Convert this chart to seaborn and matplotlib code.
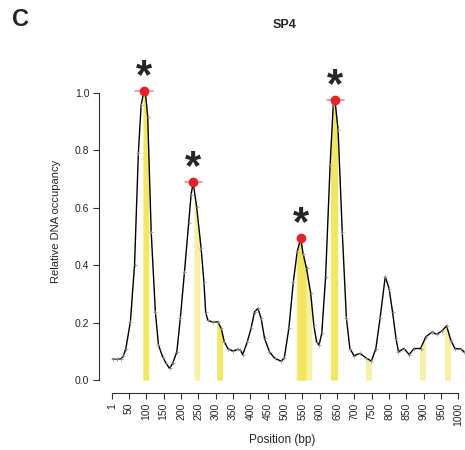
import numpy as np
import matplotlib
matplotlib.use("Agg")
import matplotlib.pyplot as plt
import seaborn as sns
import pandas as pd

# ---- data ----
position = [3, 15, 27, 34, 41, 54, 66, 77, 85, 93, 98, 104, 114, 126, 135, 147, 157,
            167, 176, 188, 198, 210, 222, 229, 235, 245, 258, 266, 271, 277, 292,
            306, 316, 325, 335, 349, 364, 371, 378, 391, 402, 412, 422, 431, 441,
            455, 470, 489, 498, 511, 524, 535, 545, 552, 562, 574, 583, 591, 598,
            606, 617, 630, 639, 644, 653, 665, 677, 687, 699, 716, 733, 749, 762,
            774, 789, 800, 810, 820, 827, 843, 858, 872, 891, 906, 925, 937, 952,
            966, 978, 990, 1007, 1016]
occupancy = [0.073, 0.072, 0.074, 0.085, 0.110, 0.203, 0.401, 0.790, 0.958, 1.007,
             0.993, 0.917, 0.517, 0.238, 0.122, 0.081, 0.058, 0.041, 0.058, 0.099,
             0.215, 0.377, 0.546, 0.645, 0.689, 0.604, 0.459, 0.343, 0.238, 0.209,
             0.201, 0.203, 0.180, 0.133, 0.110, 0.101, 0.107, 0.105, 0.089, 0.133,
             0.180, 0.238, 0.250, 0.215, 0.145, 0.099, 0.076, 0.066, 0.078, 0.180,
             0.343, 0.447, 0.494, 0.441, 0.389, 0.302, 0.192, 0.133, 0.122, 0.163,
             0.360, 0.749, 0.958, 0.976, 0.871, 0.517, 0.215, 0.110, 0.085, 0.093,
             0.078, 0.066, 0.110, 0.215, 0.360, 0.319, 0.238, 0.145, 0.099, 0.110,
             0.089, 0.110, 0.110, 0.151, 0.168, 0.159, 0.171, 0.189, 0.139, 0.110,
             0.108, 0.099]

# highlighted regions (start, end, shade)
region_start = [90, 237, 303, 531, 535, 631, 732, 888, 960]
region_end = [107, 254, 320, 577, 560, 652, 749, 905, 977]
region_shade = ["bright", "pale", "bright", "pale", "bright", "bright", "pale", "pale", "pale"]

# significant peaks
peak_pos = [94, 236, 547, 645]
peak_val = [1.008, 0.69, 0.494, 0.976]
peak_err = [26, 24, 8, 25]

xtick_labels = [1] + list(range(50, 1001, 50))
ytick_labels = [0.0, 0.2, 0.4, 0.6, 0.8, 1.0]

# ---- plotting ----
sns.set_style("white")
plt.rcParams['font.family'] = ['Liberation Sans', 'DejaVu Sans']

fig = plt.figure(figsize=(4.65, 4.5), dpi=100)
ax = fig.add_axes([99 / 465, (450 - 393) / 450, 366 / 465, 343 / 450])

df = pd.DataFrame({"Position (bp)": position, "Relative DNA occupancy": occupancy})

colors = {"bright": "#F2E65C", "pale": "#F6F0A4"}
for s, e, sh in zip(region_start, region_end, region_shade):
    xs = np.linspace(s, e, 40)
    ys = np.interp(xs, position, occupancy)
    ax.fill_between(xs, 0, ys, color=colors[sh], lw=0, alpha=0.95 if sh == "bright" else 1.0)

sns.lineplot(data=df, x="Position (bp)", y="Relative DNA occupancy", ax=ax,
             color="black", lw=1.0, marker="+", markersize=3,
             markeredgecolor="#888888", markeredgewidth=0.5,
             solid_joinstyle="round")

for p, v, e in zip(peak_pos, peak_val, peak_err):
    ax.plot([p - e, p + e], [v, v], color="#F08A8A", lw=1.2, zorder=4)
    ax.plot(p, v, "o", color="#E2232A", markersize=6, zorder=5)
    ax.annotate("*", (p, v), xytext=(0, 2), textcoords="offset points",
                ha="center", va="baseline", fontsize=30, fontweight="bold")

ax.set_xlim(-36.5, 1019)
ax.set_ylim(-0.045, 1.15)
for side in ["top", "right"]:
    ax.spines[side].set_visible(False)
for side in ["left", "bottom"]:
    ax.spines[side].set_color("#333333")
    ax.spines[side].set_linewidth(0.8)
ax.spines["left"].set_bounds(0, 1)
ax.spines["bottom"].set_bounds(1, 1000)

ax.set_xticks(xtick_labels)
ax.set_xticklabels([str(t) for t in xtick_labels], rotation=90, fontsize=7.5)
ax.set_yticks(ytick_labels)
ax.set_yticklabels([f"{t:.1f}" for t in ytick_labels], fontsize=7.5)
ax.tick_params(axis="both", length=4, width=0.8, color="#333333", pad=3,
               bottom=True, left=True)
ax.set_xlabel("Position (bp)", fontsize=8.5, labelpad=6)
ax.set_ylabel("Relative DNA occupancy", fontsize=8, labelpad=10)

fig.text(285 / 465, 1 - 25 / 450, "SP4", ha="center", va="center",
         fontsize=9, fontweight="bold")
fig.text(12 / 465, 1 - 20 / 450, "C", ha="left", va="center",
         fontsize=17, fontweight="bold")

fig.savefig("out.png", dpi=100)
